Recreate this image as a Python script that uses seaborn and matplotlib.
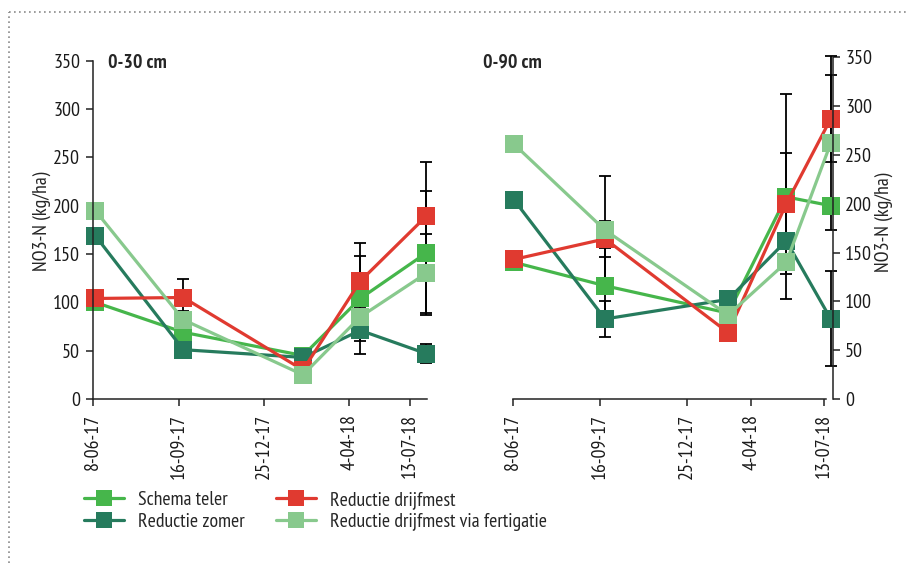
import numpy as np
import pandas as pd
import matplotlib
matplotlib.use("Agg")
import matplotlib.pyplot as plt
import seaborn as sns
from matplotlib.lines import Line2D

# ---------------- data ----------------
series = ["Schema teler", "Reductie zomer", "Reductie drijfmest",
          "Reductie drijfmest via fertigatie"]
colors = ["#46b64b", "#267b5d", "#e03a30", "#88c98d"]
tick_labels = ["8-06-17", "16-09-17", "25-12-17", "4-04-18", "13-07-18"]

# position along each panel's time axis (as drawn)
left_tick_pos = [0, 101, 200, 300, 371]
left_x = [3, 106, 246, 313, 390]
right_tick_pos = [0, 102, 204, 279, 364]
right_x = [1.5, 108, 252, 320, 372]

# 0-30 cm
l_teler = [100, 69, 45, 104, 151]
l_zomer = [169, 51, 43, 71, 47]
l_drijf = [104, 105, 30, 122, 189]
l_fert = [195, 82, 25, 85, 130]
l_teler_err = [0, 22, 0, 44, 64]
l_zomer_err = [0, 8.5, 0, 24, 10]
l_drijf_err = [0, 19, 0, 39, 56]
l_fert_err = [0, 0, 0, 0, 41]

# 0-90 cm
r_teler = [140, 116, 88, 207, 198]
r_zomer = [204, 82, 102, 162, 82]
r_drijf = [143, 164, 68, 200, 287]
r_fert = [261, 173, 86, 140, 262]
r_teler_err = [0, 38.7, 0, 105, 0]
r_zomer_err = [0, 18.4, 0, 34.3, 48.7]
r_drijf_err = [0, 18.3, 0, 51.6, 44.5]
r_fert_err = [0, 55.7, 0, 0, 89.3]

# ---------------- style ----------------
sns.set_style("ticks")
plt.rcParams["font.family"] = ["PT Sans Narrow", "DejaVu Sans"]
plt.rcParams["font.size"] = 14

W, H = 907, 563
fig = plt.figure(figsize=(W / 100, H / 100), dpi=100)
FS = 14.3


def fx(px):
    return px / W


def fy(py):
    return 1 - py / H


def make_df(xs, vals_list):
    rows = []
    for name, vals in zip(series, vals_list):
        for x, v in zip(xs, vals):
            rows.append({"series": name, "x": x, "value": v})
    return pd.DataFrame(rows)


def draw_panel(ax, xs, vals_list, errs_list, tick_pos, xmax):
    df = make_df(xs, vals_list)
    for vals, errs in zip(vals_list, errs_list):
        idx = [i for i, e in enumerate(errs) if e > 0]
        if idx:
            ax.errorbar([xs[i] for i in idx], [vals[i] for i in idx],
                        yerr=[errs[i] for i in idx], fmt="none",
                        ecolor="black", elinewidth=1.3, capsize=4.5,
                        capthick=1.3, zorder=1.8, clip_on=False)
    sns.lineplot(data=df, x="x", y="value", hue="series", hue_order=series,
                 palette=colors, marker="s", markersize=13,
                 markeredgewidth=0, linewidth=2.3, sort=False,
                 errorbar=None, legend=False, ax=ax)
    for ln in ax.lines:
        ln.set_clip_on(False)
    ax.set_xlim(0, xmax)
    ax.set_ylim(0, 350)
    ax.set_yticks(np.arange(0, 351, 50))
    ax.set_xticks(tick_pos)
    ax.set_xticklabels(tick_labels, rotation=90)
    ax.set_xlabel("")
    ax.tick_params(axis="both", length=5, width=1.1, color="#222222",
                   labelsize=FS, labelcolor="#1a1a1a")
    ax.tick_params(axis="y", pad=4)
    ax.tick_params(axis="x", pad=6)
    for s in ax.spines.values():
        s.set_linewidth(1.1)
        s.set_color("#222222")


# left panel
axL = fig.add_axes([fx(92.7), fy(399), fx(427 - 92.7), (399 - 60.7) / H])
draw_panel(axL, left_x, [l_teler, l_zomer, l_drijf, l_fert],
           [l_teler_err, l_zomer_err, l_drijf_err, l_fert_err],
           left_tick_pos, 391)
sns.despine(ax=axL)
axL.set_ylabel("NO3-N (kg/ha)", fontsize=FS)
axL.yaxis.set_label_coords(-0.125, 0.526)

# right panel
axR = fig.add_axes([fx(512.7), fy(399), fx(832.7 - 512.7), (399 - 57.3) / H])
draw_panel(axR, right_x, [r_teler, r_zomer, r_drijf, r_fert],
           [r_teler_err, r_zomer_err, r_drijf_err, r_fert_err],
           right_tick_pos, 374.3)
sns.despine(ax=axR, left=True, right=False)
axR.yaxis.tick_right()
axR.yaxis.set_label_position("right")
axR.spines["bottom"].set_bounds(0, 367)
axR.set_ylabel("NO3-N (kg/ha)", fontsize=FS, rotation=90)
axR.yaxis.set_label_coords(1.13, 0.518)

# panel titles
fig.text(fx(108), fy(63), "0-30 cm", fontsize=FS, fontweight="bold",
         va="center", ha="left")
fig.text(fx(483), fy(63), "0-90 cm", fontsize=FS, fontweight="bold",
         va="center", ha="left")

# legend
handles = [Line2D([0], [0], color=c, lw=2.3, marker="s", markersize=12,
                  markeredgewidth=0) for c in colors]
fig.legend(handles, series, ncol=2, loc="upper left",
           bbox_to_anchor=(fx(84), fy(491)), frameon=False, fontsize=FS,
           handlelength=2.0, handletextpad=0.7, columnspacing=1.6,
           labelspacing=0.2, borderpad=0, borderaxespad=0)

# dotted frame
fig.add_artist(Line2D([fx(9), fx(9)], [0, fy(12)], transform=fig.transFigure,
                      color="#8a8a8a", lw=1.2, ls=(0, (1, 2))))
fig.add_artist(Line2D([fx(9), 1], [fy(12), fy(12)], transform=fig.transFigure,
                      color="#8a8a8a", lw=1.2, ls=(0, (1, 2))))

fig.savefig("out.png", dpi=100)
